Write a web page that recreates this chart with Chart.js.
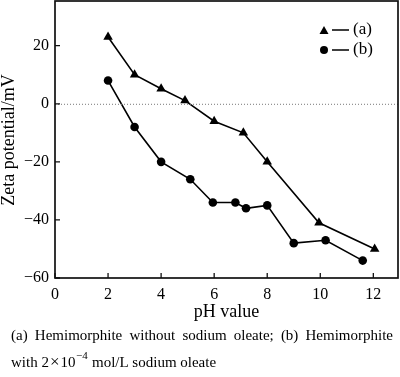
<!DOCTYPE html>
<html>
<head>
<meta charset="utf-8">
<script src="https://cdn.jsdelivr.net/npm/chart.js@4"></script>
<style>
  html, body { margin: 0; padding: 0; background: #fff; }
  #wrap { width: 400px; height: 377px; }
</style>
</head>
<body>
<div id="wrap"><canvas id="c" width="400" height="377"></canvas></div>
<script>
// --- data ---
const phA = [2, 3, 4, 4.9, 6, 7.1, 8, 9.95, 12.05];
const zetaA = [23, 10, 5.2, 1.1, -6, -10, -20, -41, -50];
const phB = [2, 3, 4, 5.1, 5.95, 6.8, 7.2, 8, 9, 10.2, 11.6];
const zetaB = [8, -8, -20, -26, -34, -34, -36, -35, -48, -47, -54];
const xTicks = [0, 2, 4, 6, 8, 10, 12];
const yTicks = [-60, -40, -20, 0, 20];

const FONT = '"Liberation Serif", "Times New Roman", serif';

function pts(xs, ys) {
  return xs.map((x, i) => ({ x, y: ys[i] }));
}

const framePlugin = {
  id: "frame",
  afterDraw(chart) {
    const ctx = chart.ctx;
    const a = chart.chartArea;
    const xs = chart.scales.x, ys = chart.scales.y;
    ctx.save();

    // dotted zero line
    const y0 = ys.getPixelForValue(0);
    ctx.strokeStyle = "#777";
    ctx.lineWidth = 1;
    ctx.setLineDash([1, 2]);
    ctx.beginPath();
    ctx.moveTo(a.left, y0 + 0.5);
    ctx.lineTo(a.right, y0 + 0.5);
    ctx.stroke();
    ctx.setLineDash([]);

    // box
    ctx.strokeStyle = "#111";
    ctx.lineWidth = 1.7;
    ctx.strokeRect(a.left, a.top, a.right - a.left, a.bottom - a.top);

    // inward ticks
    ctx.lineWidth = 1.3;
    ctx.beginPath();
    xTicks.forEach(v => {
      const px = xs.getPixelForValue(v);
      ctx.moveTo(px, a.bottom);
      ctx.lineTo(px, a.bottom - 5);
    });
    yTicks.forEach(v => {
      const py = ys.getPixelForValue(v);
      ctx.moveTo(a.left, py);
      ctx.lineTo(a.left + 5, py);
    });
    ctx.stroke();

    // legend
    ctx.fillStyle = "#000";
    ctx.strokeStyle = "#000";
    ctx.lineWidth = 1.5;
    const lx = 324, la = 30, lb = 50;
    ctx.beginPath();
    ctx.moveTo(lx, la - 4); ctx.lineTo(lx + 4.5, la + 4); ctx.lineTo(lx - 4.5, la + 4);
    ctx.closePath(); ctx.fill();
    ctx.beginPath();
    ctx.arc(lx, lb, 4, 0, Math.PI * 2); ctx.fill();
    ctx.beginPath();
    ctx.moveTo(332, la); ctx.lineTo(349, la);
    ctx.moveTo(332, lb); ctx.lineTo(349, lb);
    ctx.stroke();
    ctx.font = "17px " + FONT;
    ctx.textBaseline = "middle";
    ctx.textAlign = "left";
    ctx.fillText("(a)", 353, la);
    ctx.fillText("(b)", 353, lb);

    // axis titles
    ctx.font = "18px " + FONT;
    ctx.textAlign = "center";
    ctx.fillText("pH value", (a.left + a.right) / 2, 312);
    ctx.save();
    ctx.translate(9, 140);
    ctx.rotate(-Math.PI / 2);
    ctx.fillText("Zeta potential/mV", 0, 0);
    ctx.restore();

    // caption, first line justified
    ctx.font = "15px " + FONT;
    ctx.textAlign = "left";
    const words = "(a) Hemimorphite without sodium oleate; (b) Hemimorphite".split(" ");
    const left = 11, right = 393;
    const widths = words.map(w => ctx.measureText(w).width);
    const sum = widths.reduce((s, w) => s + w, 0);
    const gap = (right - left - sum) / (words.length - 1);
    let cx = left;
    words.forEach((w, i) => { ctx.fillText(w, cx, 336); cx += widths[i] + gap; });

    let x2 = left;
    ctx.fillText("with 2", x2, 363);
    x2 += ctx.measureText("with 2").width + 1;
    ctx.font = "17px " + FONT;
    ctx.fillText("\u00d7", x2, 363);
    x2 += ctx.measureText("\u00d7").width + 1;
    ctx.font = "15px " + FONT;
    ctx.fillText("10", x2, 363);
    x2 += ctx.measureText("10").width;
    ctx.font = "11px " + FONT;
    ctx.fillText("\u22124", x2 + 0.5, 356);
    x2 += ctx.measureText("\u22124").width + 1;
    ctx.font = "15px " + FONT;
    ctx.fillText(" mol/L sodium oleate", x2, 363);

    ctx.restore();
  }
};

const lineStyle = {
  borderColor: "#000",
  backgroundColor: "#000",
  borderWidth: 1.6,
  pointBorderWidth: 0,
  showLine: true,
  tension: 0
};

new Chart(document.getElementById("c"), {
  type: "scatter",
  data: {
    datasets: [
      Object.assign({ label: "(a)", data: pts(phA, zetaA), pointStyle: "triangle", pointRadius: 5.5 }, lineStyle),
      Object.assign({ label: "(b)", data: pts(phB, zetaB), pointStyle: "circle", pointRadius: 4.3 }, lineStyle)
    ]
  },
  options: {
    responsive: false,
    animation: false,
    layout: { autoPadding: false, padding: { top: 1, right: 2, left: 0, bottom: 0 } },
    plugins: { legend: { display: false }, tooltip: { enabled: false } },
    scales: {
      x: {
        type: "linear",
        min: 0,
        max: 12.93,
        afterBuildTicks: s => { s.ticks = xTicks.map(v => ({ value: v })); },
        afterFit: s => { s.height = 99; s.paddingLeft = 0; s.paddingRight = 0; },
        grid: { display: false, drawTicks: false },
        border: { display: false },
        ticks: { color: "#000", padding: 7, maxRotation: 0, font: { family: FONT, size: 16 } }
      },
      y: {
        type: "linear",
        min: -60,
        max: 35.4,
        afterBuildTicks: s => { s.ticks = yTicks.map(v => ({ value: v })); },
        afterFit: s => { s.width = 55; s.paddingTop = 0; s.paddingBottom = 0; },
        grid: { display: false, drawTicks: false },
        border: { display: false },
        ticks: {
          color: "#000", padding: 6, font: { family: FONT, size: 16 },
          callback: v => String(v).replace("-", "\u2212")
        }
      }
    }
  },
  plugins: [framePlugin]
});
</script>
</body>
</html>
